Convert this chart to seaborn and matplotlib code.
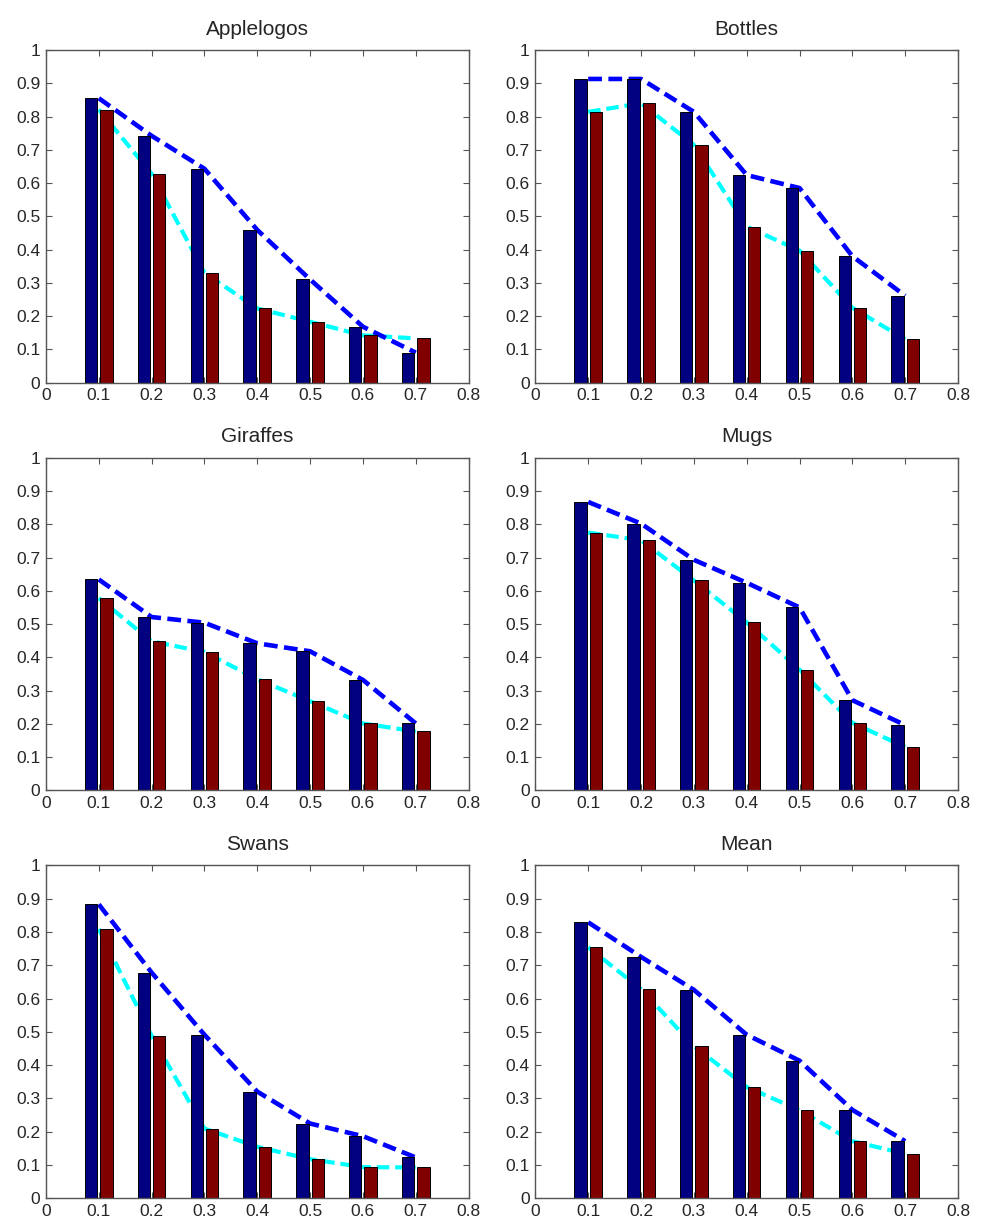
import pandas as pd
import seaborn as sns
import matplotlib.pyplot as plt

# Thresholds on the x axis
thresholds = [0.1, 0.2, 0.3, 0.4, 0.5, 0.6, 0.7]

panel_names = ['Applelogos', 'Bottles', 'Giraffes', 'Mugs', 'Swans', 'Mean']

# Dark blue bars (first method)
applelogos_a = [0.855, 0.742, 0.643, 0.459, 0.310, 0.168, 0.090]
bottles_a = [0.913, 0.913, 0.814, 0.624, 0.585, 0.380, 0.261]
giraffes_a = [0.634, 0.521, 0.504, 0.442, 0.418, 0.332, 0.201]
mugs_a = [0.867, 0.802, 0.693, 0.624, 0.550, 0.271, 0.196]
swans_a = [0.883, 0.678, 0.491, 0.320, 0.224, 0.186, 0.122]
mean_a = [0.829, 0.725, 0.626, 0.491, 0.413, 0.265, 0.171]

# Dark red bars (second method)
applelogos_b = [0.821, 0.628, 0.330, 0.223, 0.183, 0.142, 0.133]
bottles_b = [0.814, 0.840, 0.715, 0.469, 0.397, 0.225, 0.130]
giraffes_b = [0.578, 0.448, 0.416, 0.334, 0.268, 0.201, 0.177]
mugs_b = [0.775, 0.752, 0.631, 0.505, 0.363, 0.203, 0.130]
swans_b = [0.809, 0.488, 0.209, 0.154, 0.117, 0.093, 0.092]
mean_b = [0.754, 0.628, 0.457, 0.334, 0.264, 0.171, 0.133]

series_a = [applelogos_a, bottles_a, giraffes_a, mugs_a, swans_a, mean_a]
series_b = [applelogos_b, bottles_b, giraffes_b, mugs_b, swans_b, mean_b]

x_ticks = [0, 0.1, 0.2, 0.3, 0.4, 0.5, 0.6, 0.7, 0.8]
y_ticks = [0, 0.1, 0.2, 0.3, 0.4, 0.5, 0.6, 0.7, 0.8, 0.9, 1]

# Build a long-form table
rows = []
for name, a_vals, b_vals in zip(panel_names, series_a, series_b):
    for t, a, b in zip(thresholds, a_vals, b_vals):
        rows.append({'panel': name, 'thr': t, 'method': 'A', 'value': a})
        rows.append({'panel': name, 'thr': t, 'method': 'B', 'value': b})
df = pd.DataFrame(rows)

sns.set_style('ticks')
plt.rcParams['font.family'] = ['Liberation Sans', 'DejaVu Sans']

fig, axes = plt.subplots(3, 2, figsize=(9.84, 12.2), dpi=100)
fig.subplots_adjust(left=0.0467, right=0.9736, top=0.959, bottom=0.018,
                    wspace=0.158, hspace=0.226)

for ax, name in zip(axes.flat, panel_names):
    sub = df[df['panel'] == name]

    # Dashed lines sit behind the bars
    line_a = sub[sub['method'] == 'A']
    line_b = sub[sub['method'] == 'B']
    sns.lineplot(data=line_b, x='thr', y='value', ax=ax, color='#00FFFF',
                 linewidth=3.0, linestyle=(0, (3, 1.4)), zorder=0.5, errorbar=None)
    sns.lineplot(data=line_a, x='thr', y='value', ax=ax, color='#0000FF',
                 linewidth=3.3, linestyle=(0, (3, 1.4)), zorder=0.6, errorbar=None)

    # Grouped bars
    sns.barplot(data=sub, x='thr', y='value', hue='method', native_scale=True,
                palette=['#000080', '#800000'], saturation=1, width=0.58, gap=0.2,
                edgecolor='black', linewidth=0.7, errorbar=None, legend=False,
                ax=ax, zorder=1)

    ax.set_xlim(0, 0.8)
    ax.set_ylim(0, 1)
    ax.set_xticks(x_ticks)
    ax.set_yticks(y_ticks)
    ax.set_xticklabels([f'{v:g}' for v in x_ticks])
    ax.set_yticklabels([f'{v:g}' for v in y_ticks])
    ax.set_xlabel('')
    ax.set_ylabel('')
    ax.set_title(name, fontsize=15, pad=11)

    ax.tick_params(direction='in', top=True, right=True, length=4,
                   width=0.8, color='#555555', labelsize=12.5, pad=4)
    for spine in ax.spines.values():
        spine.set_visible(True)
        spine.set_color('#555555')
        spine.set_linewidth(1.0)

plt.savefig('out.png', dpi=100)
